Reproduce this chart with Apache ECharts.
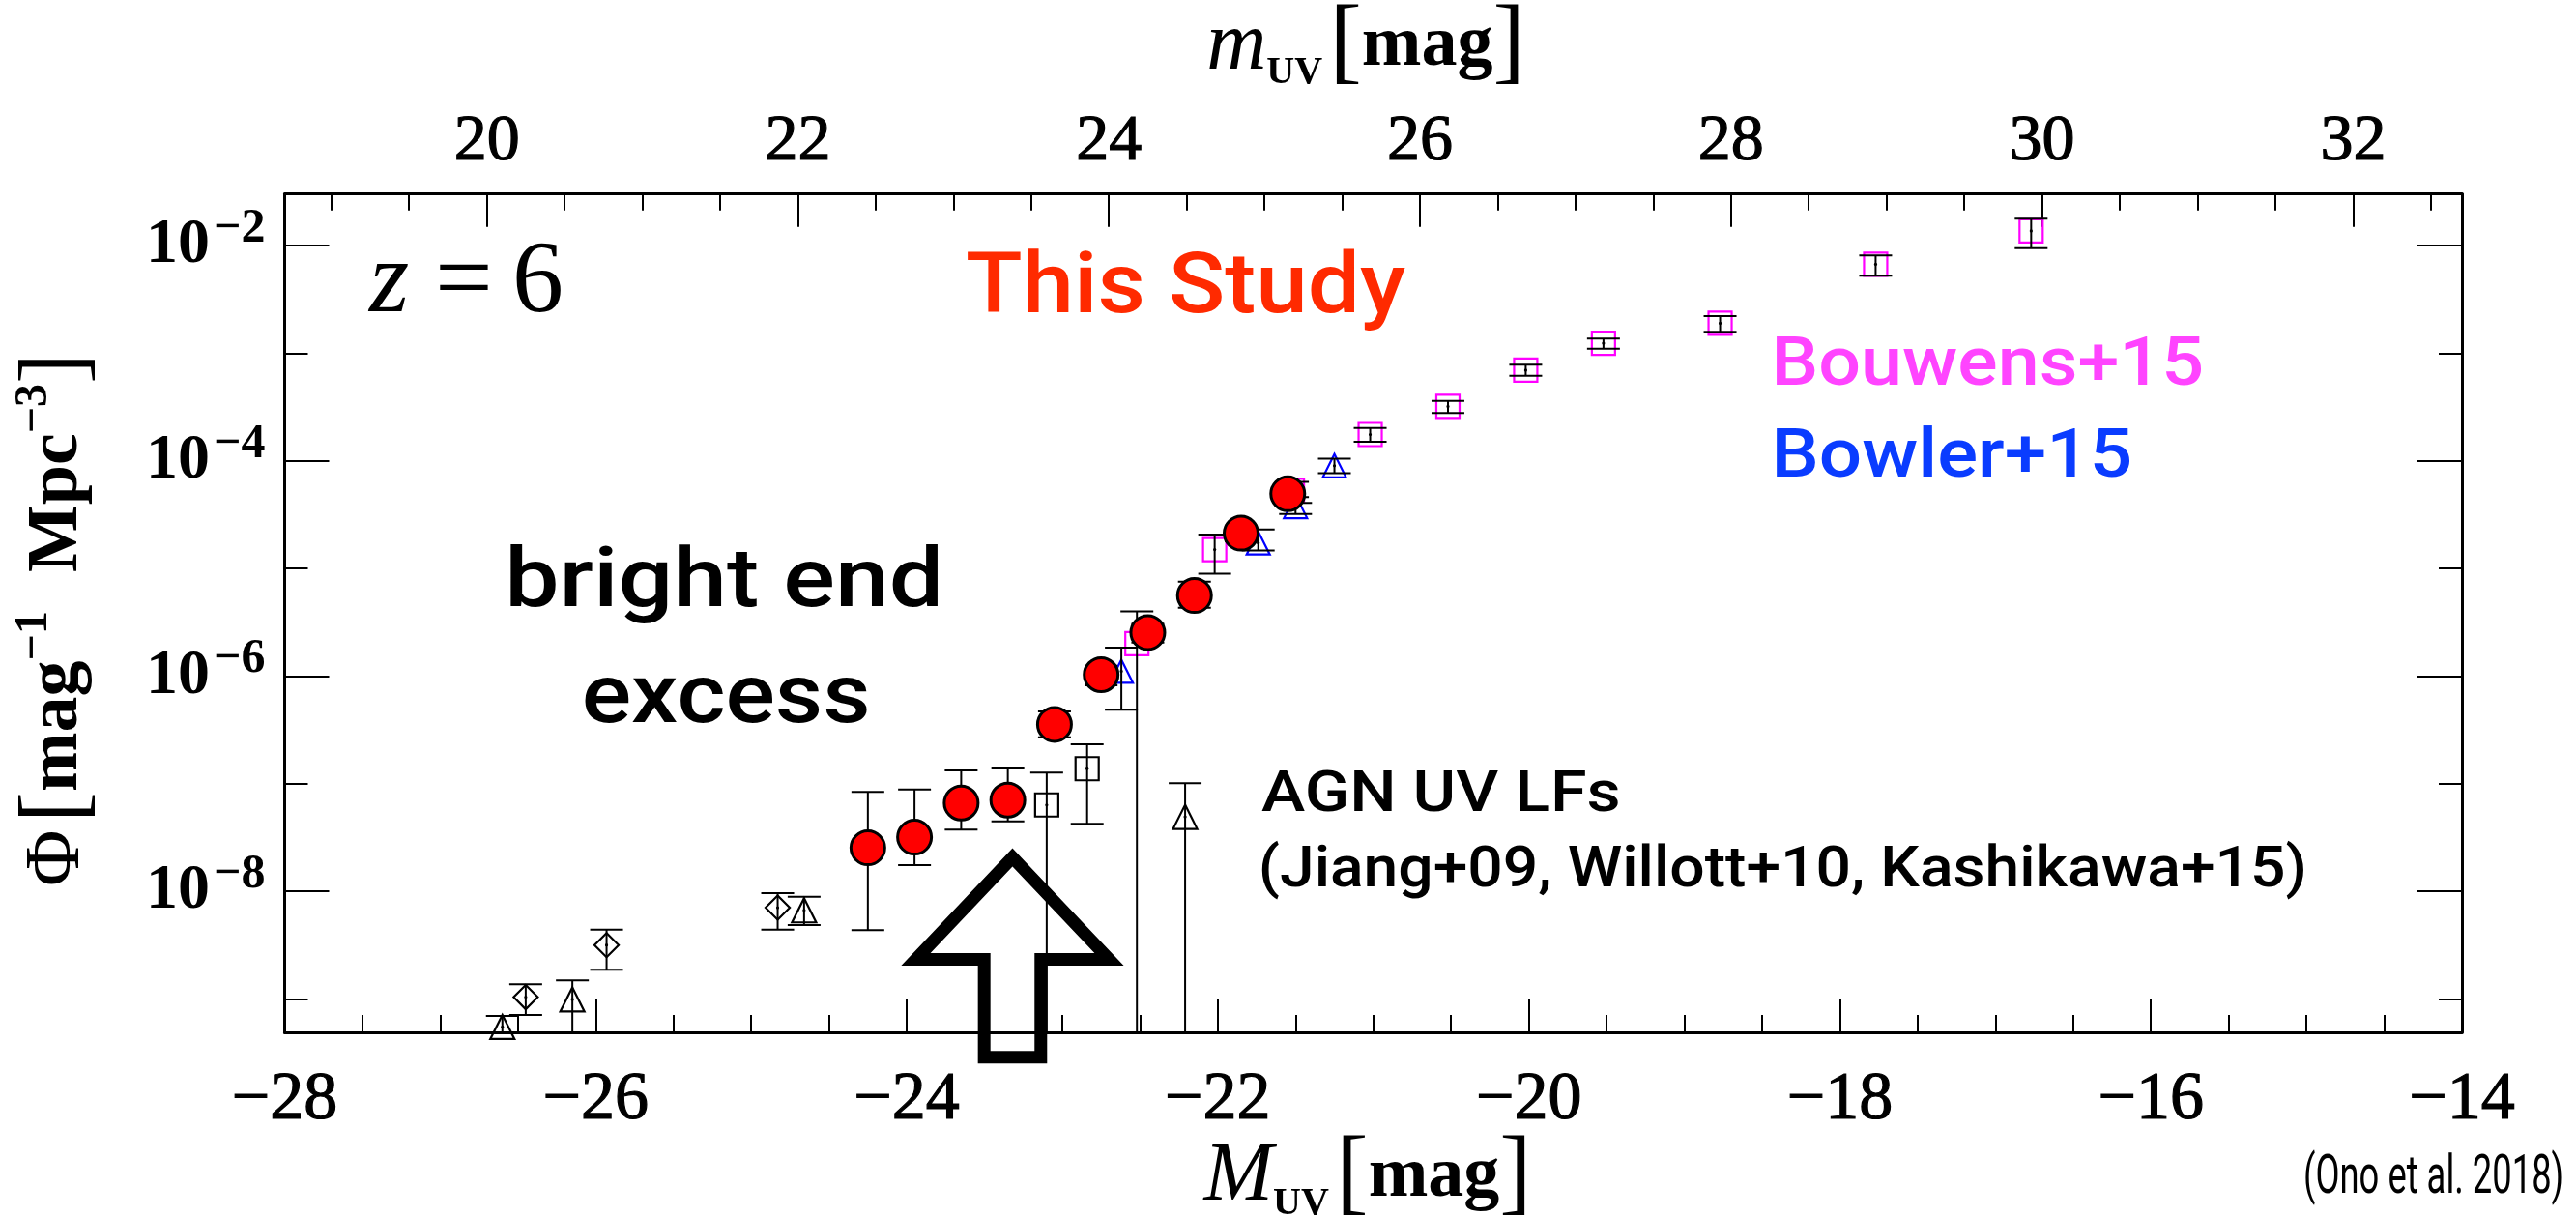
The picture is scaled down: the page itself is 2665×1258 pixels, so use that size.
<!DOCTYPE html>
<html>
<head>
<meta charset="utf-8">
<script src="https://cdn.jsdelivr.net/npm/echarts@6/dist/echarts.min.js"></script>
<style>
  html, body { margin: 0; padding: 0; background: #ffffff; }
  #chart { width: 2665px; height: 1258px; }
</style>
</head>
<body>
<div id="chart"></div>
<script>
// ---------------- data: z = 6 UV luminosity function ----------------
// This study (red filled circles): M_UV, Phi and the lower / upper error bounds
const thisStudyM   = [-24.25, -23.95, -23.65, -23.35, -23.05, -22.75, -22.45, -22.15, -21.85, -21.55];
const thisStudyPhi = [2.54e-8, 3.19e-8, 6.62e-8, 7.05e-8, 3.56e-7, 1.03e-6, 2.54e-6, 5.61e-6, 2.13e-5, 4.95e-5];
const thisStudyLo  = [4.36e-9, 1.75e-8, 3.74e-8, 4.47e-8, 2.70e-7, 8.20e-7, 2.05e-6, 4.31e-6, 1.80e-5, 4.30e-5];
const thisStudyHi  = [8.38e-8, 8.85e-8, 1.33e-7, 1.39e-7, 4.69e-7, 1.25e-6, 3.05e-6, 7.53e-6, 2.50e-5, 5.60e-5];

// Bouwens+15 (magenta open squares); null lower bound = error reaching zero
const bouwensM   = [-22.52, -22.02, -21.52, -21.02, -20.52, -20.02, -19.52, -18.77, -17.77, -16.77];
const bouwensPhi = [2.0e-6, 1.50e-5, 5.3e-5, 1.76e-4, 3.21e-4, 6.97e-4, 1.24e-3, 1.90e-3, 6.71e-3, 1.37e-2];
const bouwensLo  = [null, 8.97e-6, 4.6e-5, 1.51e-4, 2.79e-4, 6.17e-4, 1.10e-3, 1.58e-3, 5.26e-3, 9.46e-3];
const bouwensHi  = [4.0e-6, 2.07e-5, 6.4e-5, 2.02e-4, 3.61e-4, 7.82e-4, 1.37e-3, 2.22e-3, 8.13e-3, 1.78e-2];

// Bowler+15 (blue open triangles)
const bowlerM   = [-22.62, -21.74, -21.50, -21.25];
const bowlerPhi = [1.11e-6, 1.73e-5, 3.76e-5, 9.02e-5];
const bowlerLo  = [4.86e-7, 1.47e-5, 3.21e-5, 7.71e-5];
const bowlerHi  = [1.84e-6, 2.30e-5, 4.08e-5, 1.05e-4];

// AGN UV LFs (Jiang+09, Willott+10, Kashikawa+15): black open symbols
const agnDiamondM   = [-26.45, -25.93, -24.83];
const agnDiamondPhi = [1.04e-9, 3.17e-9, 7.05e-9];
const agnDiamondLo  = [7.1e-10, 1.87e-9, 4.42e-9];
const agnDiamondHi  = [1.37e-9, 4.42e-9, 9.62e-9];

const agnTriangleM   = [-26.60, -26.15, -24.66, -22.21];
const agnTrianglePhi = [5.5e-10, 9.9e-10, 6.67e-9, 4.92e-8];
const agnTriangleLo  = [null, null, 4.86e-9, null];
const agnTriangleHi  = [6.95e-10, 1.49e-9, 8.91e-9, 1.01e-7];

const agnSquareM   = [-23.10, -22.84];
const agnSquarePhi = [6.35e-8, 1.38e-7];
const agnSquareLo  = [null, 4.24e-8];
const agnSquareHi  = [1.27e-7, 2.32e-7];

// axis ticks
const absMagTicks   = [-28, -26, -24, -22, -20, -18, -16, -14];
const appMagTicks   = [20, 22, 24, 26, 28, 30, 32];
const appMagMinor   = [19, 19.5, 20.5, 21, 21.5, 22.5, 23, 23.5, 24.5, 25, 25.5, 26.5, 27, 27.5,
                       28.5, 29, 29.5, 30.5, 31, 31.5, 32.5];
const phiMajorTicks = [1e-8, 1e-6, 1e-4, 1e-2];
const phiMinorTicks = [1e-9, 1e-7, 1e-5, 1e-3];

// m_UV = M_UV + 46.7 at z = 6
const distanceOffset = 46.7;
const absMagRange = [absMagTicks[0], absMagTicks[absMagTicks.length - 1]];
const phiRange = [Math.pow(10, -9.31), Math.pow(10, -1.52)];

// annotation arrow tip (data units)
const arrowTip = [-23.32, 2.07e-8];

// ---------------- helpers ----------------
function rows(m, phi, lo, hi) {
  return m.map((v, i) => [v, phi[i], lo[i] == null ? '-' : lo[i], hi[i]]);
}

const SERIF = '"Liberation Serif", "DejaVu Serif", serif';
const SANS = 'Roboto, "Liberation Sans", Arial, sans-serif';

const measureCtx = document.createElement('canvas').getContext('2d');
// text stretched horizontally so that its ink spans [left, right]
function fittedText(text, font, color, left, right, yMid) {
  measureCtx.font = font;
  const m = measureCtx.measureText(text);
  const ink = m.actualBoundingBoxLeft + m.actualBoundingBoxRight;
  const sx = (right - left) / ink;
  return {
    type: 'text', x: left + m.actualBoundingBoxLeft * sx, y: yMid, scaleX: sx, z: 10, silent: true,
    style: { text: text, font: font, fill: color, align: 'left', verticalAlign: 'middle' }
  };
}

function errorBars(capHalf, width, dot) {
  return function (params, api) {
    const x = api.value(0);
    const y = api.value(1);
    const lo = api.value(2);
    const hi = api.value(3);
    const cs = params.coordSys;
    const p = api.coord([x, y]);
    const yTop = api.coord([x, hi])[1];
    const open = !(lo > 0);
    const yBot = open ? cs.y + cs.height : api.coord([x, lo])[1];
    const st = { stroke: '#000', lineWidth: width };
    const kids = [
      { type: 'line', shape: { x1: p[0], y1: yTop, x2: p[0], y2: yBot }, style: st },
      { type: 'line', shape: { x1: p[0] - capHalf, y1: yTop, x2: p[0] + capHalf, y2: yTop }, style: st }
    ];
    if (!open) {
      kids.push({ type: 'line', shape: { x1: p[0] - capHalf, y1: yBot, x2: p[0] + capHalf, y2: yBot }, style: st });
    }
    if (dot) {
      kids.push({ type: 'circle', shape: { cx: p[0], cy: p[1], r: 1.6 }, style: { fill: '#000' } });
    }
    return { type: 'group', children: kids };
  };
}

function barSeries(name, data, z, capHalf, dot) {
  return {
    name: name, type: 'custom', xAxisIndex: 0, yAxisIndex: 0, z: z,
    silent: true, data: data, encode: { x: 0, y: 1 },
    renderItem: errorBars(capHalf, 2, dot)
  };
}

function markerSeries(name, data, symbol, size, color, fill, z) {
  return {
    name: name, type: 'scatter', xAxisIndex: 0, yAxisIndex: 0, z: z, silent: true,
    symbol: symbol, symbolSize: size, data: data.map(r => [r[0], r[1]]),
    itemStyle: { color: fill, borderColor: color, borderWidth: 2.2, opacity: 1 },
    emphasis: { disabled: true }
  };
}

// ---------------- chart ----------------
const chart = echarts.init(document.getElementById('chart'), null, { renderer: 'canvas' });

const thisRows = rows(thisStudyM, thisStudyPhi, thisStudyLo, thisStudyHi);
const bouwRows = rows(bouwensM, bouwensPhi, bouwensLo, bouwensHi);
const bowlRows = rows(bowlerM, bowlerPhi, bowlerLo, bowlerHi);
const diaRows  = rows(agnDiamondM, agnDiamondPhi, agnDiamondLo, agnDiamondHi);
const triRows  = rows(agnTriangleM, agnTrianglePhi, agnTriangleLo, agnTriangleHi);
const sqRows   = rows(agnSquareM, agnSquarePhi, agnSquareLo, agnSquareHi);

const frameLine = { show: true, lineStyle: { color: '#000', width: 3 } };
const tickStyle = { color: '#000', width: 2 };

const yLabelRich = {
  b: { fontFamily: SERIF, fontWeight: 'bold', fontSize: 66, lineHeight: 84, color: '#000' },
  e: { fontFamily: SERIF, fontWeight: 'bold', fontSize: 50, lineHeight: 40, verticalAlign: 'top',
       padding: [0, 0, 0, 4], color: '#000' }
};

function yAxisDef(position, ticks, len, withLabels, withLine) {
  return {
    type: 'log', position: position, min: phiRange[0], max: phiRange[1],
    axisLine: withLine ? frameLine : { show: false },
    axisTick: { show: true, inside: true, length: len, lineStyle: tickStyle, customValues: ticks },
    axisLabel: withLabels ? {
      show: true, margin: 20, customValues: ticks,
      formatter: v => '{b|10}{e|\u2212' + Math.round(-Math.log10(v)) + '}',
      rich: yLabelRich
    } : { show: false },
    splitLine: { show: false }, minorTick: { show: false }
  };
}

function topAxisDef(ticks, len, withLabels, withLine) {
  return {
    type: 'value', position: 'top',
    min: absMagRange[0] + distanceOffset, max: absMagRange[1] + distanceOffset,
    axisLine: withLine ? frameLine : { show: false },
    axisTick: { show: true, inside: true, length: len, lineStyle: tickStyle, customValues: ticks },
    axisLabel: withLabels ? {
      show: true, margin: 20, customValues: ticks,
      fontFamily: SERIF, fontSize: 68, color: '#000', lineHeight: 68,
      textBorderColor: '#000', textBorderWidth: 1.2
    } : { show: false },
    splitLine: { show: false }
  };
}

const titleRich = {
  i: { font: 'italic 86px ' + SERIF, lineHeight: 96, fill: '#000' },
  s: { font: 'bold 40px ' + SERIF, lineHeight: 40, verticalAlign: 'bottom', fill: '#000' },
  g: { font: '30px ' + SERIF, lineHeight: 96 },
  k: { font: '100px ' + SERIF, lineHeight: 96, fill: '#000' },
  t: { font: 'bold 74px ' + SERIF, lineHeight: 96, fill: '#000' }
};

const option = {
  animation: false,
  backgroundColor: '#ffffff',
  grid: { left: 294.5, right: 118, top: 200.7, bottom: 190, containLabel: false },
  xAxis: [
    {
      type: 'value', position: 'bottom', min: absMagRange[0], max: absMagRange[1], interval: 2,
      axisLine: frameLine,
      axisTick: { show: true, inside: true, length: 35, lineStyle: tickStyle },
      minorTick: { show: true, splitNumber: 4, length: 18, lineStyle: tickStyle },
      axisLabel: {
        show: true, margin: 36, fontFamily: SERIF, fontSize: 70, lineHeight: 70, color: '#000',
        textBorderColor: '#000', textBorderWidth: 1.2,
        formatter: v => (v < 0 ? '\u2212' + Math.abs(v) : String(v))
      },
      splitLine: { show: false }, minorSplitLine: { show: false }
    },
    topAxisDef(appMagTicks, 34, true, true),
    topAxisDef(appMagMinor, 17, false, false)
  ],
  yAxis: [
    yAxisDef('left', phiMajorTicks, 46, true, true),
    yAxisDef('left', phiMinorTicks, 24, false, false),
    yAxisDef('right', phiMajorTicks, 46, false, true),
    yAxisDef('right', phiMinorTicks, 24, false, false)
  ],
  series: [
    // AGN luminosity functions
    barSeries('AGN error', diaRows.concat(triRows, sqRows), 2, 17, true),
    markerSeries('AGN diamond', diaRows, 'diamond', [25, 25], '#000', 'rgba(0,0,0,0)', 3),
    markerSeries('AGN triangle', triRows, 'triangle', [25, 25], '#000', 'rgba(0,0,0,0)', 3),
    markerSeries('AGN square', sqRows, 'rect', [24, 24], '#000', 'rgba(0,0,0,0)', 3),
    // Bouwens+15 and Bowler+15
    markerSeries('Bouwens+15', bouwRows, 'rect', [24, 24], '#ff00ff', 'rgba(0,0,0,0)', 4),
    markerSeries('Bowler+15', bowlRows, 'triangle', [24, 24], '#0000ff', 'rgba(0,0,0,0)', 4),
    barSeries('Bouwens error', bouwRows, 5, 17, true),
    barSeries('Bowler error', bowlRows, 5, 17, true),
    // bright-end arrow
    {
      name: 'arrow', type: 'custom', xAxisIndex: 0, yAxisIndex: 0, z: 6, silent: true, clip: false,
      data: [arrowTip], encode: { x: 0, y: 1 },
      renderItem: function (params, api) {
        const t = api.coord([api.value(0), api.value(1)]);
        const pts = [[0, 0], [100, 105.5], [29.3, 105.5], [29.3, 206.7], [-29.3, 206.7], [-29.3, 105.5], [-100, 105.5]]
          .map(q => [t[0] + q[0], t[1] + q[1]]);
        return {
          type: 'polygon', shape: { points: pts },
          style: { fill: 'none', stroke: '#000', lineWidth: 13, lineJoin: 'miter', miterLimit: 10 }
        };
      }
    },
    // this study
    barSeries('This Study error', thisRows, 7, 17, false),
    {
      name: 'This Study', type: 'scatter', xAxisIndex: 0, yAxisIndex: 0, z: 8, silent: true,
      symbol: 'circle', symbolSize: 35, data: thisRows.map(r => [r[0], r[1]]),
      itemStyle: { color: '#ff0000', borderColor: '#000', borderWidth: 3, opacity: 1 },
      emphasis: { disabled: true }
    }
  ],
  graphic: [
    // panel redshift
    { type: 'text', x: 382, y: 294, z: 10, silent: true, style: { text: 'z', font: 'italic 106px ' + SERIF, fill: '#000', align: 'left', verticalAlign: 'middle' } },
    { type: 'text', x: 450, y: 294, z: 10, silent: true, style: { text: '=', font: '106px ' + SERIF, fill: '#000', align: 'left', verticalAlign: 'middle' } },
    { type: 'text', x: 530, y: 294, z: 10, silent: true, style: { text: '6', font: '106px ' + SERIF, fill: '#000', align: 'left', verticalAlign: 'middle' } },
    // data set labels
    fittedText('This Study', '500 88px ' + SANS, '#ff2a00', 1000, 1454, 301),
    fittedText('Bouwens+15', '500 70px ' + SANS, '#ff44ff', 1838, 2277, 380),
    fittedText('Bowler+15', '500 70px ' + SANS, '#0a3cff', 1838, 2203, 475),
    fittedText('bright end', '500 86px ' + SANS, '#000', 528, 971, 605),
    fittedText('excess', '500 86px ' + SANS, '#000', 605, 897, 725),
    fittedText('AGN UV LFs', '500 59px ' + SANS, '#000', 1305, 1674, 824),
    fittedText('(Jiang+09, Willott+10, Kashikawa+15)', '500 59px ' + SANS, '#000', 1305, 2383, 902),
    fittedText('(Ono et al. 2018)', '400 56px ' + SANS, '#000', 2385, 2650, 1220),
    // axis titles
    {
      type: 'text', x: 1413, y: 48, z: 10, silent: true,
      style: { text: '{i|m}{s|UV}{g| }{k|[}{t|mag}{k|]}', align: 'center', verticalAlign: 'middle', rich: titleRich }
    },
    {
      type: 'text', x: 1415, y: 1218, z: 10, silent: true,
      style: { text: '{i|M}{s|UV}{g| }{k|[}{t|mag}{k|]}', align: 'center', verticalAlign: 'middle', rich: titleRich }
    },
    {
      type: 'text', x: 60, y: 641, z: 10, rotation: Math.PI / 2, silent: true,
      style: {
        text: '{p|\u03A6}{g| }{k|[}{t|mag}{u|\u22121}{w| }{t|Mpc}{u|\u22123}{k|]}', align: 'center', verticalAlign: 'middle',
        rich: {
          p: { font: '80px ' + SERIF, lineHeight: 96, fill: '#000' },
          g: { font: '30px ' + SERIF, lineHeight: 96 },
          w: { font: '30px ' + SERIF, lineHeight: 96, width: 40 },
          k: { font: '96px ' + SERIF, lineHeight: 96, fill: '#000' },
          t: { font: 'bold 74px ' + SERIF, lineHeight: 96, fill: '#000' },
          u: { font: 'bold 48px ' + SERIF, lineHeight: 48, verticalAlign: 'top', fill: '#000' }
        }
      }
    }
  ]
};

chart.setOption(option);
</script>
</body>
</html>
